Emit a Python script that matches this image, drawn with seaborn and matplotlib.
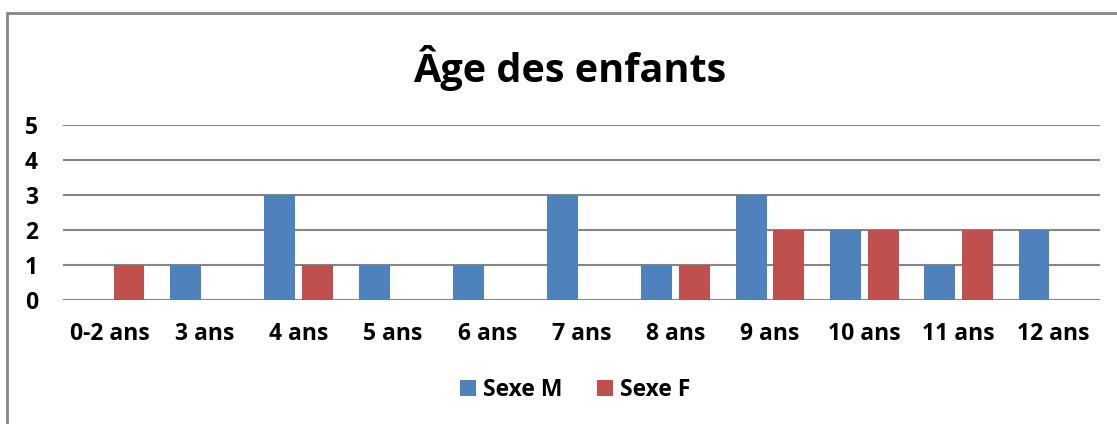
import pandas as pd
import matplotlib.pyplot as plt
import seaborn as sns
from matplotlib.patches import Rectangle

# data
ages = ["0-2 ans", "3 ans", "4 ans", "5 ans", "6 ans", "7 ans",
        "8 ans", "9 ans", "10 ans", "11 ans", "12 ans"]
sexe_m = [0, 1, 3, 1, 1, 3, 1, 3, 2, 1, 2]
sexe_f = [1, 0, 1, 0, 0, 0, 1, 2, 2, 2, 0]

df = pd.DataFrame({
    "age": ages * 2,
    "count": sexe_m + sexe_f,
    "sexe": ["Sexe M"] * len(ages) + ["Sexe F"] * len(ages),
})

sns.set_style("white")
plt.rcParams['font.family'] = ['Open Sans', 'DejaVu Sans']
plt.rcParams['text.color'] = 'black'
plt.rcParams['xtick.color'] = 'black'
plt.rcParams['ytick.color'] = 'black'

fig = plt.figure(figsize=(11.17, 4.24), dpi=100)
ax = fig.add_axes([63/1117, 1 - 300/424, (1100 - 63)/1117, 175/424])

sns.barplot(data=df, x="age", y="count", hue="sexe", order=ages,
            hue_order=["Sexe M", "Sexe F"],
            palette={"Sexe M": "#4F81BD", "Sexe F": "#C0504D"},
            saturation=1, width=0.8, gap=0.18, linewidth=0,
            ax=ax, legend=True)

ax.set_ylim(0, 5)
ax.set_xlim(-0.5, len(ages) - 0.5)
ax.set_yticks(range(6))
ax.yaxis.grid(True, color="#868686", linewidth=1.5)
ax.set_axisbelow(True)
for s in ax.spines.values():
    s.set_visible(False)
ax.tick_params(axis="both", length=0)
ax.tick_params(axis="x", pad=16)
ax.tick_params(axis="y", pad=18)
for lab in ax.get_xticklabels() + ax.get_yticklabels():
    lab.set_fontweight("bold")
    lab.set_fontsize(16.5)
ax.set_xlabel("")
ax.set_ylabel("")

fig.text(570/1117, 1 - 68/424, "Âge des enfants", ha="center", va="center",
         fontsize=28.5, fontweight="bold")

ax.legend_.remove()
handles, labels = ax.get_legend_handles_labels()
fig.legend(handles, labels, loc="center", bbox_to_anchor=(575/1117, 1 - 390/424),
           ncol=2, frameon=False, prop={"weight": "bold", "size": 16.5},
           handlelength=0.7, handleheight=0.7, handletextpad=0.3, columnspacing=1.5)

# outer chart border (runs off the right and bottom edges)
fig.patches.append(Rectangle((7/1117, -0.2), 1.2, 1.2 - 13/424,
                             transform=fig.transFigure, fill=False,
                             edgecolor="#878787", linewidth=2, clip_on=False))

fig.savefig("out.png", dpi=100, facecolor="white")
